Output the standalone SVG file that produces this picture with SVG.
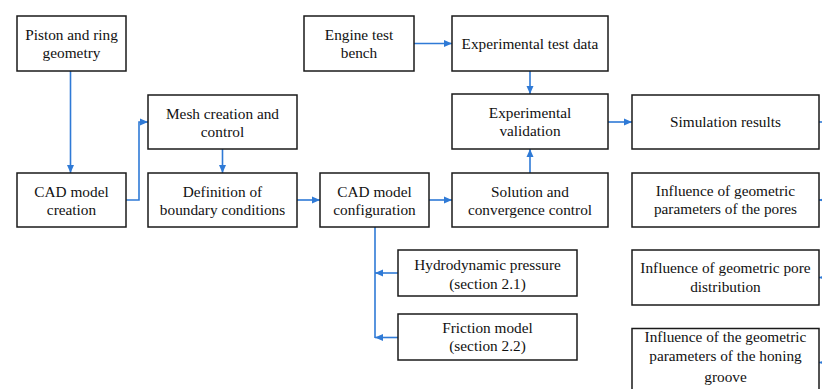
<svg xmlns="http://www.w3.org/2000/svg" width="822" height="389" viewBox="0 0 822 389">
<style>
.box{fill:#fff;stroke:#1a1a1a;stroke-width:1.5}
.t{font-size:15.3px;fill:#111;text-anchor:middle}
.c{fill:none;stroke:#2f7ad6;stroke-width:1.6}
</style>
<defs>
<marker id="ah" markerUnits="userSpaceOnUse" markerWidth="8" markerHeight="8" refX="8" refY="4" orient="auto">
<path d="M0,0.5 L8,4 L0,7.5 z" fill="#2f7ad6"/>
</marker>
</defs>
<rect width="822" height="389" fill="#fff"/>
<g id="connectors">
<path class="c" d="M70.5 71 V173" marker-end="url(#ah)"/>
<path class="c" d="M126 200 H139 V122 H148" marker-end="url(#ah)"/>
<path class="c" d="M222.5 149 V173" marker-end="url(#ah)"/>
<path class="c" d="M297 200 H320" marker-end="url(#ah)"/>
<path class="c" d="M429 200 H452" marker-end="url(#ah)"/>
<path class="c" d="M530 173 V149" marker-end="url(#ah)"/>
<path class="c" d="M414 43.5 H452" marker-end="url(#ah)"/>
<path class="c" d="M530 71 V94" marker-end="url(#ah)"/>
<path class="c" d="M608 122 H632" marker-end="url(#ah)"/>
<path class="c" d="M819 122 H824"/>
<path class="c" d="M375 227 V338"/>
<path class="c" d="M398 273 H375" marker-end="url(#ah)"/>
<path class="c" d="M398 337.5 H375" marker-end="url(#ah)"/>
<path class="c" d="M828 200 H819" marker-end="url(#ah)"/>
<path class="c" d="M828 277.5 H819" marker-end="url(#ah)"/>
<path class="c" d="M828 362.5 H819" marker-end="url(#ah)"/>
</g>
<g font-family="'Liberation Serif', 'Times New Roman', 'DejaVu Serif', serif">
<g id="piston"><rect class="box" x="17" y="16" width="109" height="55"/><text class="t" x="71.5" y="39.5">Piston and ring</text><text class="t" x="71.5" y="58">geometry</text></g>
<g id="cadCreate"><rect class="box" x="17" y="173" width="109" height="54"/><text class="t" x="71.5" y="196.5">CAD model</text><text class="t" x="71.5" y="214.5">creation</text></g>
<g id="mesh"><rect class="box" x="148" y="95" width="149" height="54"/><text class="t" x="222.5" y="118.5">Mesh creation and</text><text class="t" x="222.5" y="136.5">control</text></g>
<g id="definition"><rect class="box" x="148" y="173" width="149" height="54"/><text class="t" x="222.5" y="196.5">Definition of</text><text class="t" x="222.5" y="214.5">boundary conditions</text></g>
<g id="cadConfig"><rect class="box" x="320" y="173" width="109" height="54"/><text class="t" x="374.5" y="196.5">CAD model</text><text class="t" x="374.5" y="214.5">configuration</text></g>
<g id="engine"><rect class="box" x="304" y="16" width="110" height="55"/><text class="t" x="359" y="39.5">Engine test</text><text class="t" x="359" y="58">bench</text></g>
<g id="expData"><rect class="box" x="452" y="16" width="156" height="55"/><text class="t" x="530" y="48.5">Experimental test data</text></g>
<g id="expVal"><rect class="box" x="452" y="94" width="156" height="55"/><text class="t" x="530" y="117.5">Experimental</text><text class="t" x="530" y="136">validation</text></g>
<g id="solution"><rect class="box" x="452" y="173" width="156" height="54"/><text class="t" x="530" y="196.5">Solution and</text><text class="t" x="530" y="214.5">convergence control</text></g>
<g id="simResults"><rect class="box" x="632" y="95" width="187" height="54"/><text class="t" x="725.5" y="127">Simulation results</text></g>
<g id="inf1"><rect class="box" x="632" y="173" width="187" height="54"/><text class="t" x="725.5" y="195.5">Influence of geometric</text><text class="t" x="725.5" y="213.5">parameters of the pores</text></g>
<g id="inf2"><rect class="box" x="632" y="250" width="187" height="55"/><text class="t" x="725.5" y="272.5">Influence of geometric pore</text><text class="t" x="725.5" y="292">distribution</text></g>
<g id="inf3"><rect class="box" x="632" y="328.5" width="187" height="80"/><text class="t" x="725.5" y="341.5">Influence of the geometric</text><text class="t" x="725.5" y="361">parameters of the honing</text><text class="t" x="725.5" y="382">groove</text></g>
<g id="hydro"><rect class="box" x="398" y="250" width="179" height="46"/><text class="t" x="487.5" y="270">Hydrodynamic pressure</text><text class="t" x="487.5" y="288.5">(section 2.1)</text></g>
<g id="friction"><rect class="box" x="398" y="314" width="179" height="46"/><text class="t" x="487.5" y="333">Friction model</text><text class="t" x="487.5" y="351">(section 2.2)</text></g>
</g>
</svg>
